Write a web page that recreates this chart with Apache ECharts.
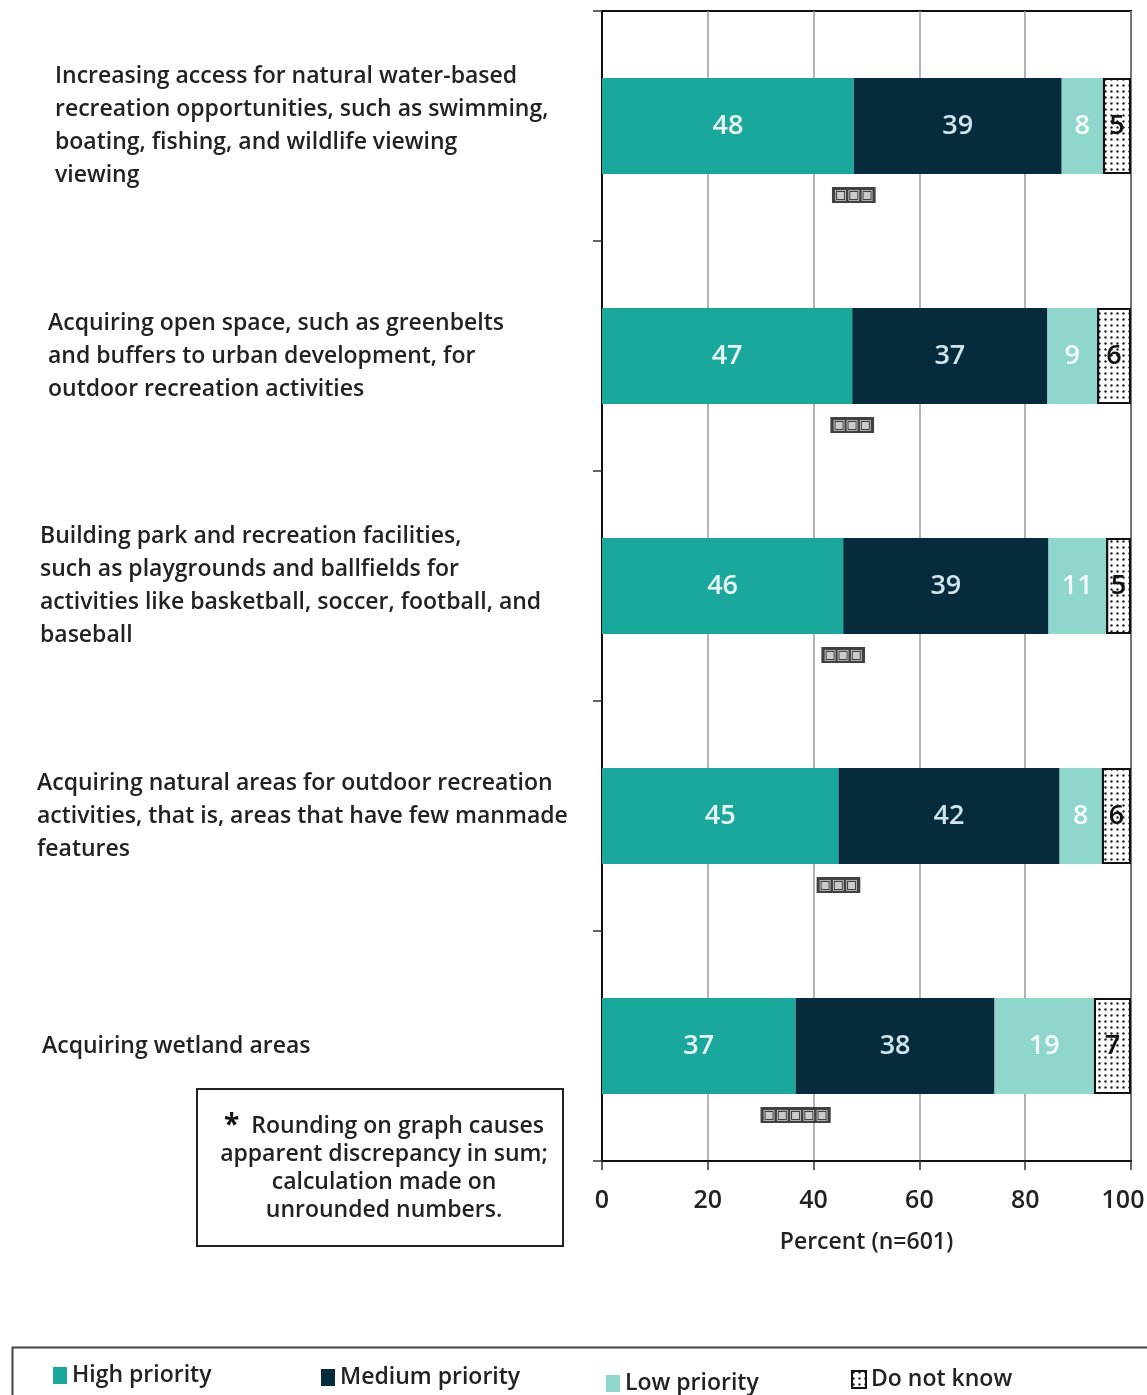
<!DOCTYPE html>
<html>
<head>
<meta charset="utf-8">
<script src="https://cdn.jsdelivr.net/npm/echarts@6/dist/echarts.min.js"></script>
<style>
  html, body { margin: 0; padding: 0; background: #fff; overflow: hidden; }
  #chart { width: 1147px; height: 1395px; }
</style>
</head>
<body>
<div id="chart"></div>
<script>
const categories = [
  'Increasing access for natural water-based\nrecreation opportunities, such as swimming,\nboating, fishing, and wildlife viewing\nviewing',
  'Acquiring open space, such as greenbelts\nand buffers to urban development, for\noutdoor recreation activities',
  'Building park and recreation facilities,\nsuch as playgrounds and ballfields for\nactivities like basketball, soccer, football, and\nbaseball',
  'Acquiring natural areas for outdoor recreation\nactivities, that is, areas that have few manmade\nfeatures',
  'Acquiring wetland areas'
];
const seriesNames = ['High priority', 'Medium priority', 'Low priority', 'Do not know'];
const highPriority   = [47.6, 47.3, 45.6, 44.7, 36.6];
const mediumPriority = [39.3, 36.9, 38.8, 41.8, 37.6];
const lowPriority    = [7.8, 9.4, 10.9, 8.0, 18.8];
const doNotKnow      = [5.3, 6.4, 4.7, 5.5, 7.0];
const totalNotes = ['\u25a3\u25a3\u25a3', '\u25a3\u25a3\u25a3', '\u25a3\u25a3\u25a3', '\u25a3\u25a3\u25a3', '\u25a3\u25a3\u25a3\u25a3\u25a3'];
const xTicks = [0, 20, 40, 60, 80, 100];
const noteLines = ['{s|*}  Rounding on graph causes', 'apparent discrepancy in sum;', 'calculation made on', 'unrounded numbers.'];

const FONT = '"Open Sans", "Noto Sans", sans-serif';
const FW = 600;
const labelIndent = ['a', 'b', 'c', 'd', 'e'];
const indentPad = [18, 11, 3, 0, 5];

const chart = echarts.init(document.getElementById('chart'), null, { renderer: 'canvas' });

function barLabel(color) {
  return {
    show: true, position: 'inside', color: color, fontSize: 27, fontFamily: FONT, fontWeight: FW,
    formatter: p => String(Math.round(p.value))
  };
}
const rich = {};
labelIndent.forEach((k, i) => {
  rich[k] = { fontSize: 23, fontFamily: FONT, fontWeight: FW, color: '#222', lineHeight: 33, padding: [0, 0, 0, indentPad[i]] };
});
const legendText = { fontSize: 23, color: '#222', fontFamily: FONT, fontWeight: FW };
const tickFont = { fontSize: 25, color: '#222', fontFamily: FONT, fontWeight: FW };

const option = {
  backgroundColor: '#fff',
  animation: false,
  grid: { left: 602, right: 16, top: 11, bottom: 234, show: true, borderColor: '#111', borderWidth: 2,
    containLabel: false, outerBoundsMode: 'none' },
  xAxis: {
    type: 'value', min: xTicks[0], max: xTicks[xTicks.length - 1], interval: 20,
    axisLine: { show: true, lineStyle: { color: '#111', width: 2 } },
    axisTick: { show: true, length: 9, lineStyle: { color: '#333', width: 1.5 } },
    axisLabel: Object.assign({ margin: 27,
      formatter: v => v === xTicks[xTicks.length - 1] ? '{last|' + v + '}' : '{t|' + v + '}',
      rich: { t: tickFont, last: Object.assign({ padding: [0, 16, 0, 0] }, tickFont) } }, tickFont),
    splitLine: { show: true, lineStyle: { color: '#9a9a9a', width: 1.5 } },
    name: 'Percent (n=601)', nameLocation: 'middle', nameGap: 70,
    nameTextStyle: { fontSize: 23, color: '#222', fontFamily: FONT, fontWeight: FW }
  },
  yAxis: {
    type: 'category', inverse: true, data: categories,
    axisLine: { show: true, lineStyle: { color: '#111', width: 2 } },
    axisTick: { show: true, length: 9, inside: false, lineStyle: { color: '#333', width: 1.5 } },
    splitLine: { show: false },
    axisLabel: {
      align: 'left', margin: 565, color: '#222', fontSize: 23, fontFamily: FONT, fontWeight: FW, lineHeight: 33,
      formatter: (v, i) => v.split('\n').map(l => '{' + labelIndent[i] + '|' + l + '}').join('\n'),
      rich: rich
    }
  },
  legend: [
    { data: [seriesNames[0]], left: 48, top: 1359, icon: 'rect', itemWidth: 14, itemHeight: 17, itemGap: 6, textStyle: legendText },
    { data: [seriesNames[1]], left: 316, top: 1361, icon: 'rect', itemWidth: 14, itemHeight: 17, textStyle: legendText },
    { data: [seriesNames[2]], left: 601, top: 1367, icon: 'rect', itemWidth: 14, itemHeight: 17, textStyle: legendText },
    { data: [seriesNames[3]], left: 846, top: 1363, icon: 'rect', itemWidth: 14, itemHeight: 17, textStyle: legendText }
  ],
  graphic: [
    { type: 'rect', left: 10, top: 1345, shape: { x: 0, y: 0, width: 1150, height: 70 }, style: { fill: 'none', stroke: '#444', lineWidth: 2 } },
    { type: 'rect', shape: { x: 197, y: 1089, width: 366, height: 157 }, style: { fill: '#fff', stroke: '#222', lineWidth: 2 }, z: 10 },
    { type: 'text', x: 384, y: 1168, z: 11, style: {
        text: noteLines.join('\n'), align: 'center', verticalAlign: 'middle',
        fontSize: 23, fontFamily: FONT, fontWeight: FW, fill: '#222', lineHeight: 28,
        rich: { s: { fontSize: 28, fontFamily: FONT, fontWeight: 700, fill: '#111', verticalAlign: 'top', padding: [0, 0, 10, 0] } }
    } }
  ],
  series: [
    { name: seriesNames[0], type: 'bar', stack: 't', barWidth: 96, data: highPriority,
      itemStyle: { color: '#19a89b' }, label: barLabel('#e8f5f4') },
    { name: seriesNames[1], type: 'bar', stack: 't', barWidth: 96, data: mediumPriority,
      itemStyle: { color: '#062b3d' }, label: barLabel('#cfe5ea') },
    { name: seriesNames[2], type: 'bar', stack: 't', barWidth: 96, data: lowPriority,
      itemStyle: { color: '#8fd6cc' }, label: barLabel('#f4fbfa') },
    { name: seriesNames[3], type: 'bar', stack: 't', barWidth: 96, data: doNotKnow,
      itemStyle: { color: '#fff', borderColor: '#111', borderWidth: 2,
        decal: { symbol: 'circle', symbolSize: 0.8, color: '#222', dashArrayX: [3, 3], dashArrayY: [3, 3], rotation: 0 } },
      label: barLabel('#111') },
    { name: 'notes', type: 'scatter', silent: true, symbolSize: 0,
      data: highPriority.map((v, i) => [v, i]),
      label: { show: true, position: 'inside', offset: [0, 69], formatter: p => totalNotes[p.dataIndex],
        backgroundColor: '#111', color: '#eee', padding: [1, 2], fontSize: 14, fontFamily: '"DejaVu Sans"' } }
  ]
};
chart.setOption(option);
</script>
</body>
</html>
